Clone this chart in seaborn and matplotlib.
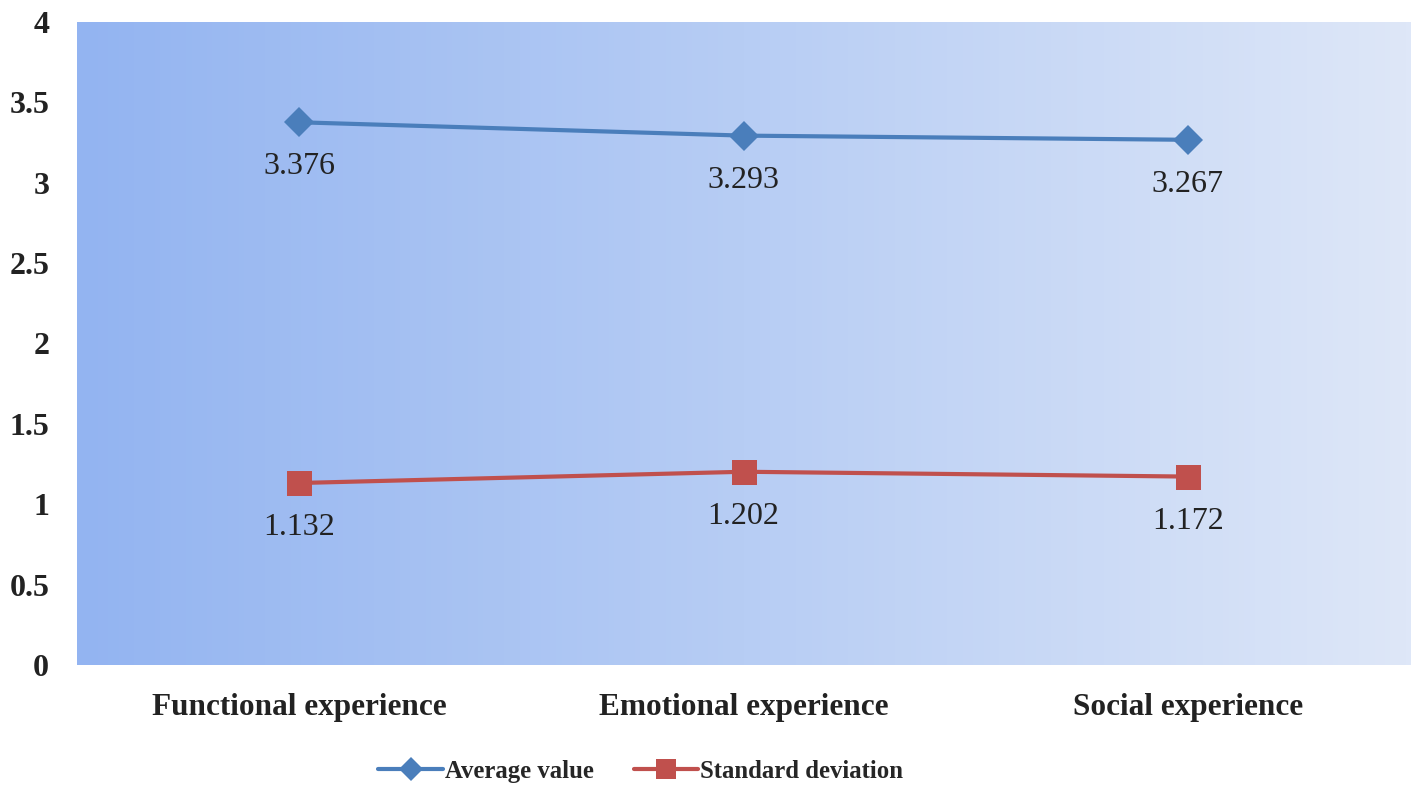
import numpy as np
import pandas as pd
import seaborn as sns
import matplotlib.pyplot as plt
from matplotlib.colors import LinearSegmentedColormap

categories = ["Functional experience", "Emotional experience", "Social experience"]
average_value = [3.376, 3.293, 3.267]
standard_deviation = [1.132, 1.202, 1.172]
series_names = ["Average value", "Standard deviation"]
y_ticks = [0, 0.5, 1, 1.5, 2, 2.5, 3, 3.5, 4]

df = pd.DataFrame({
    "category": categories * 2,
    "value": average_value + standard_deviation,
    "series": [series_names[0]] * 3 + [series_names[1]] * 3,
})

sns.set_style("white")
plt.rcParams["font.family"] = ["Liberation Serif", "DejaVu Serif"]

fig = plt.figure(figsize=(14.18, 7.96), dpi=100)
ax = fig.add_axes([0.0543, 0.1646, 0.9401, 0.8078])

# gradient background of the plot area
grad = LinearSegmentedColormap.from_list("bg", ["#93b4f1", "#b7cdf4", "#dee7f8"])
ax.imshow(np.linspace(0, 1, 256).reshape(1, -1), cmap=grad, aspect="auto",
          extent=[0, 1, 0, 1], transform=ax.transAxes, zorder=0)

palette = {"Average value": "#4a7ebb", "Standard deviation": "#c0504d"}
markers = {"Average value": "D", "Standard deviation": "s"}
sns.lineplot(data=df, x="category", y="value", hue="series", style="series",
             markers=markers, dashes=False, palette=palette, sort=False,
             linewidth=3, markersize=18, markeredgewidth=0, ax=ax, zorder=3)

for line in ax.lines:
    if line.get_marker() == "D":
        line.set_markersize(15)

for vals in (average_value, standard_deviation):
    for i, v in enumerate(vals):
        ax.annotate(f"{v:.3f}", (i, v), xytext=(0, -32), textcoords="offset points",
                    ha="center", va="center", fontsize=23, color="#222222")

ax.set_xlim(-0.5, 2.5)
ax.set_ylim(0, 4)
ax.set_yticks(y_ticks)
ax.set_yticklabels([f"{t:g}" for t in y_ticks])
ax.set_xlabel("")
ax.set_ylabel("")
for s in ax.spines.values():
    s.set_visible(False)
ax.tick_params(axis="both", length=0)
ax.tick_params(axis="y", pad=20, labelsize=23)
ax.tick_params(axis="x", pad=20, labelsize=22.5)
for lab in ax.get_xticklabels() + ax.get_yticklabels():
    lab.set_fontweight("bold")
    lab.set_color("#222222")

handles, labels = ax.get_legend_handles_labels()
for h in handles:
    h.set_linewidth(3)
    h.set_markeredgewidth(0)
    h.set_markersize(12 if h.get_marker() == "D" else 15)
ax.legend(handles, labels, loc="center", bbox_to_anchor=(0.423, -0.165),
          ncol=2, frameon=False, handlelength=2.6, handletextpad=0.1,
          columnspacing=1.6, prop={"weight": "bold", "size": 17.8})

fig.savefig("out.png", dpi=100, facecolor="white")
